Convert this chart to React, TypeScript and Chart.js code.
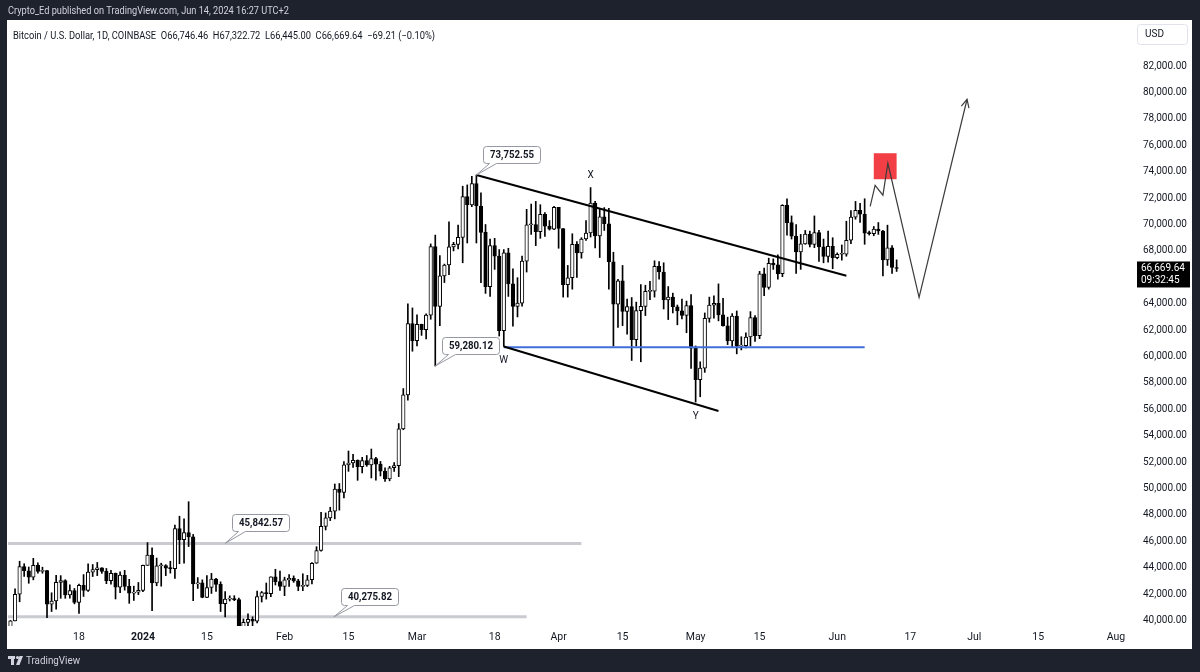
import React, { useEffect, useRef } from 'react';
import { Chart, registerables } from 'chart.js';

Chart.register(...registerables);

// ---------- candle data (BTC/USD, 1D, Coinbase) ----------
const candleDates = [
  '2023-12-03', '2023-12-04', '2023-12-05', '2023-12-06', '2023-12-07', '2023-12-08', '2023-12-09', '2023-12-10',
  '2023-12-11', '2023-12-12', '2023-12-13', '2023-12-14', '2023-12-15', '2023-12-16', '2023-12-17', '2023-12-18',
  '2023-12-19', '2023-12-20', '2023-12-21', '2023-12-22', '2023-12-23', '2023-12-24', '2023-12-25', '2023-12-26',
  '2023-12-27', '2023-12-28', '2023-12-29', '2023-12-30', '2023-12-31',
  '2024-01-01', '2024-01-02', '2024-01-03', '2024-01-04', '2024-01-05', '2024-01-06', '2024-01-07', '2024-01-08',
  '2024-01-09', '2024-01-10', '2024-01-11', '2024-01-12', '2024-01-13', '2024-01-14', '2024-01-15', '2024-01-16',
  '2024-01-17', '2024-01-18', '2024-01-19', '2024-01-20', '2024-01-21', '2024-01-22', '2024-01-23', '2024-01-24',
  '2024-01-25', '2024-01-26', '2024-01-27', '2024-01-28', '2024-01-29', '2024-01-30', '2024-01-31',
  '2024-02-01', '2024-02-02', '2024-02-03', '2024-02-04', '2024-02-05', '2024-02-06', '2024-02-07', '2024-02-08',
  '2024-02-09', '2024-02-10', '2024-02-11', '2024-02-12', '2024-02-13', '2024-02-14', '2024-02-15', '2024-02-16',
  '2024-02-17', '2024-02-18', '2024-02-19', '2024-02-20', '2024-02-21', '2024-02-22', '2024-02-23', '2024-02-24',
  '2024-02-25', '2024-02-26', '2024-02-27', '2024-02-28', '2024-02-29',
  '2024-03-01', '2024-03-02', '2024-03-03', '2024-03-04', '2024-03-05', '2024-03-06', '2024-03-07', '2024-03-08',
  '2024-03-09', '2024-03-10', '2024-03-11', '2024-03-12', '2024-03-13', '2024-03-14', '2024-03-15', '2024-03-16',
  '2024-03-17', '2024-03-18', '2024-03-19', '2024-03-20', '2024-03-21', '2024-03-22', '2024-03-23', '2024-03-24',
  '2024-03-25', '2024-03-26', '2024-03-27', '2024-03-28', '2024-03-29', '2024-03-30', '2024-03-31',
  '2024-04-01', '2024-04-02', '2024-04-03', '2024-04-04', '2024-04-05', '2024-04-06', '2024-04-07', '2024-04-08',
  '2024-04-09', '2024-04-10', '2024-04-11', '2024-04-12', '2024-04-13', '2024-04-14', '2024-04-15', '2024-04-16',
  '2024-04-17', '2024-04-18', '2024-04-19', '2024-04-20', '2024-04-21', '2024-04-22', '2024-04-23', '2024-04-24',
  '2024-04-25', '2024-04-26', '2024-04-27', '2024-04-28', '2024-04-29', '2024-04-30',
  '2024-05-01', '2024-05-02', '2024-05-03', '2024-05-04', '2024-05-05', '2024-05-06', '2024-05-07', '2024-05-08',
  '2024-05-09', '2024-05-10', '2024-05-11', '2024-05-12', '2024-05-13', '2024-05-14', '2024-05-15', '2024-05-16',
  '2024-05-17', '2024-05-18', '2024-05-19', '2024-05-20', '2024-05-21', '2024-05-22', '2024-05-23', '2024-05-24',
  '2024-05-25', '2024-05-26', '2024-05-27', '2024-05-28', '2024-05-29', '2024-05-30', '2024-05-31',
  '2024-06-01', '2024-06-02', '2024-06-03', '2024-06-04', '2024-06-05', '2024-06-06', '2024-06-07', '2024-06-08',
  '2024-06-09', '2024-06-10', '2024-06-11', '2024-06-12', '2024-06-13', '2024-06-14',
];

const opens = [
  39460, 39970, 41990, 44080, 43770, 43290, 44170, 43720, 43790, 41240, 41480, 42890, 43020, 41940, 42270, 41370,
  42660, 42270, 43660, 43860, 43990, 43720, 43010, 43580, 42520, 43440, 42580, 42070, 42140,
  42280, 44180, 44950, 42850, 44150, 44160, 43970, 43930, 46970, 46120, 46660, 46340, 42780, 42850, 41740, 42500,
  43140, 42740, 41270, 41620, 41660, 41580, 39520, 39860, 40080, 39940, 41820, 42120, 42030, 43300, 42940,
  42580, 43080, 43190, 43000, 42580, 42660, 43090, 44340, 45300, 47130, 47770, 48290, 49960, 49700, 51800, 51930,
  52130, 51660, 52120, 51780, 52260, 51850, 51320, 50730, 51570, 51730, 54520, 57090, 62500,
  61200, 62440, 62030, 63130, 68330, 63800, 66110, 66930, 68300, 68500, 69020, 72120, 71480, 73100, 71400, 69400,
  65300, 68400, 67600, 61950, 67850, 65500, 63800, 64050, 67230, 69980, 69990, 69450, 70780, 69880, 69640,
  71300, 69700, 65450, 65970, 68500, 67840, 68900, 69360, 71620, 69140, 70590, 70060, 67180, 63960, 65740, 63420,
  63790, 61280, 63470, 63800, 64940, 64950, 66840, 66400, 64290, 64500, 63770, 63460, 63120, 63860,
  60630, 58250, 59120, 62890, 63890, 64030, 63160, 62330, 61190, 63070, 60790, 60820, 61480, 62940, 61580, 66270,
  65230, 67050, 66940, 66270, 71450, 70140, 69120, 67930, 68530, 69280, 68500, 69390, 68300, 67590, 68350,
  67490, 67750, 67760, 68810, 70560, 71080, 70790, 69350, 69310, 69650, 69510, 67320, 68240, 66746.46,
];

const highs = [
  40000, 42400, 44490, 44300, 44050, 44710, 44370, 44040, 43810, 42100, 43430, 43400, 43090, 42700, 42430, 42750,
  43480, 44290, 44240, 44400, 44000, 43940, 43800, 43600, 43680, 43800, 43120, 42600, 42880,
  44190, 45900, 45500, 44730, 44340, 44230, 44490, 47230, 47900, 47700, 49000, 46520, 43250, 43080, 43400, 43570,
  43190, 42930, 42190, 41870, 41880, 41690, 40120, 40510, 40280, 42230, 42200, 42840, 43310, 43880, 43740,
  43280, 43480, 43380, 43120, 43540, 43420, 44380, 45590, 48200, 48150, 48580, 50340, 50380, 52040, 52840, 52580,
  52170, 52360, 52500, 52990, 52370, 52050, 51560, 51680, 51960, 54920, 57570, 64000, 63680,
  63160, 62450, 63240, 68530, 69200, 67640, 67000, 70200, 68650, 69950, 72900, 73000, 73650, 73752.55, 72400, 70000,
  68900, 68950, 68100, 68100, 68200, 66650, 65970, 67600, 71150, 71550, 71750, 71500, 70900, 70300, 71370,
  71300, 69700, 66900, 69300, 68700, 69000, 70300, 72800, 71760, 71200, 71280, 71230, 67900, 65850, 66900, 64360,
  64470, 64120, 65450, 65400, 65700, 67250, 67200, 67100, 65300, 64800, 63900, 64350, 64200, 64700,
  60800, 59600, 63300, 64500, 64600, 65500, 64400, 62980, 63250, 63450, 61500, 61800, 63400, 63100, 66450, 66700,
  67450, 67400, 67700, 71500, 71950, 70650, 70000, 69250, 69550, 69500, 70650, 69550, 68900, 69500, 69000,
  67850, 68450, 70250, 71050, 71750, 71600, 71950, 69500, 69850, 70150, 69550, 69950, 68400, 67322.72,
];

const lows = [
  39280, 39970, 41420, 43340, 42820, 43080, 43580, 43580, 40220, 40680, 40850, 41680, 41680, 41700, 41260, 40530,
  41820, 42200, 43330, 43400, 43570, 42790, 42760, 41630, 42110, 42300, 41300, 41520, 41960,
  42190, 44180, 40750, 42630, 42600, 43400, 43590, 43180, 44300, 44350, 45600, 41500, 42430, 41720, 41720, 42050,
  42200, 40680, 40270, 41480, 41500, 39440, 38520, 39480, 39530, 39820, 41400, 41620, 41800, 42690, 42280,
  41880, 42580, 42890, 42260, 42260, 42570, 42780, 44330, 45250, 46860, 47570, 47700, 48360, 49280, 51300, 51600,
  50620, 51180, 51680, 50800, 50640, 50950, 50540, 50580, 51290, 50900, 54450, 56700, 60400,
  60800, 61600, 61330, 62820, 59280.12, 62340, 65600, 66200, 68000, 68150, 67100, 68600, 71350, 68600, 65600, 64780,
  64550, 66600, 61550, 60760, 64550, 62300, 63000, 63820, 66400, 69250, 68400, 68950, 69100, 69580, 69600,
  68200, 64500, 64500, 65100, 66000, 67450, 68800, 69050, 68220, 67500, 69550, 65100, 60800, 62200, 62340, 61700,
  59700, 60800, 59600, 63100, 64300, 64500, 65850, 63600, 62800, 63300, 62400, 62850, 61800, 59100,
  56550, 56950, 58800, 62600, 62900, 62700, 62300, 60900, 60750, 60200, 60500, 60650, 60800, 61150, 61350, 64600,
  65100, 66600, 65850, 66050, 69200, 68900, 66300, 66600, 68500, 68300, 68250, 67200, 67100, 67150, 66650,
  67400, 67300, 67600, 68550, 70400, 70150, 68500, 69200, 69150, 69250, 66100, 66900, 66300, 66445.0,
];

const closes = [
  39970, 41990, 44080, 43770, 43290, 44170, 43720, 43790, 41240, 41480, 42890, 43020, 41940, 42270, 41370, 42660,
  42270, 43660, 43860, 43990, 43720, 43010, 43580, 42520, 43440, 42580, 42070, 42140, 42280,
  44180, 44950, 42850, 44150, 44160, 43970, 43930, 46970, 46120, 46660, 46340, 42780, 42850, 41740, 42500, 43140,
  42740, 41270, 41620, 41660, 41580, 39520, 39860, 40080, 39940, 41820, 42120, 42030, 43300, 42940, 42580,
  43080, 43190, 43000, 42580, 42660, 43090, 44340, 45300, 47130, 47770, 48290, 49960, 49700, 51800, 51930, 52130,
  51660, 52120, 51780, 52260, 51850, 51320, 50730, 51570, 51730, 54520, 57090, 62500, 61200,
  62440, 62030, 63130, 68330, 63800, 66110, 66930, 68300, 68500, 69020, 72120, 71480, 73100, 71400, 69400, 65300,
  68400, 67600, 61950, 67850, 65500, 63800, 64050, 67230, 69980, 69990, 69450, 70780, 69880, 69640, 71300,
  69700, 65450, 65970, 68500, 67840, 68900, 69360, 71620, 69140, 70590, 70060, 67180, 63960, 65740, 63420, 63790,
  61280, 63470, 63800, 64940, 64950, 66840, 66400, 64290, 64500, 63770, 63460, 63120, 63860, 60630,
  58250, 59120, 62890, 63890, 64030, 63160, 62330, 61190, 63070, 60790, 60820, 61480, 62940, 61580, 66270, 65230,
  67050, 66940, 66270, 71450, 70140, 69120, 67930, 68530, 69280, 68500, 69390, 68300, 67590, 68350, 67490,
  67750, 67760, 68810, 70560, 71080, 70790, 69350, 69310, 69650, 69510, 67320, 68240, 66750, 66669.64,
];

// ---------- axes ----------
const timeTickDates = [
  '2023-12-18', '2024-01-01', '2024-01-15', '2024-02-01', '2024-02-15', '2024-03-01', '2024-03-18', '2024-04-01',
  '2024-04-15', '2024-05-01', '2024-05-15', '2024-06-01', '2024-06-17', '2024-07-01', '2024-07-15', '2024-08-01',
];
const timeTickLabels = ['18', '2024', '15', 'Feb', '15', 'Mar', '18', 'Apr', '15', 'May', '15', 'Jun', '17', 'Jul', '15', 'Aug'];
const priceTicks = [
  40000, 42000, 44000, 46000, 48000, 50000, 52000, 54000, 56000, 58000, 60000, 62000, 64000,
  68000, 70000, 72000, 74000, 76000, 78000, 80000, 82000,
];
const viewStart = '2023-12-02T11:00';
const viewEnd = '2024-08-04T18:00';
const priceMin = 39583;
const priceMax = 85494;

// ---------- drawings ----------
const channelTopDates = ['2024-03-14', '2024-06-03'];
const channelTopPrices = [73752.55, 66120];
const channelBottomDates = ['2024-03-20', '2024-05-06'];
const channelBottomPrices = [60760, 55870];
const wLevelDates = ['2024-03-20', '2024-06-07'];
const wLevelPrices = [60700, 60700];
const resistanceDates = ['2023-11-20', '2024-04-06'];
const resistancePrices = [45842.57, 45842.57];
const supportDates = ['2023-11-20', '2024-03-25'];
const supportPrices = [40275.82, 40275.82];
const projectionDates = ['2024-06-08T05:00', '2024-06-09T07:00', '2024-06-11T00:00', '2024-06-12T02:00', '2024-06-18T22:00', '2024-06-29T10:00'];
const projectionPrices = [71380, 72970, 72220, 74640, 64480, 79490];
const targetBoxDates = ['2024-06-09', '2024-06-14'];
const targetBoxPrices = [73430, 75400];
const calloutTexts = ['73,752.55', '59,280.12', '45,842.57', '40,275.82'];
const calloutDates = ['2024-03-14', '2024-03-05', '2024-01-19', '2024-02-11T19:00'];
const calloutPrices = [73752.55, 59280.12, 45842.57, 40275.82];
const waveLabels = ['X', 'W', 'Y'];
const waveDates = ['2024-04-08', '2024-03-20', '2024-05-01'];
const wavePrices = [72800, 60760, 56550];
const waveAbove = [true, false, false];

const publishText = 'Crypto_Ed published on TradingView.com, Jun 14, 2024 16:27 UTC+2';
const symbolText = 'Bitcoin / U.S. Dollar, 1D, COINBASE  O66,746.46  H67,322.72  L66,445.00  C66,669.64  \u221269.21 (\u22120.10%)';
const countdownText = '09:32:45';
const currencyText = 'USD';

// ---------- helpers ----------
const EPOCH = Date.parse('2023-12-18T00:00:00Z');
const dayOf = (s: string) => (Date.parse(s.length > 10 ? s + ':00Z' : s + 'T00:00:00Z') - EPOCH) / 86400000;
const fmt = (v: number) => v.toLocaleString('en-US', { minimumFractionDigits: 2, maximumFractionDigits: 2 });
const pts = (dates: string[], prices: number[]) => dates.map((d, i) => ({ x: dayOf(d), y: prices[i] }));

const FONT = 'Roboto, "Liberation Sans", sans-serif';

function roundRectPath(ctx: CanvasRenderingContext2D, x: number, y: number, w: number, h: number, r: number) {
  ctx.moveTo(x + r, y);
  ctx.lineTo(x + w - r, y);
  ctx.arcTo(x + w, y, x + w, y + r, r);
  ctx.lineTo(x + w, y + h - r);
  ctx.arcTo(x + w, y + h, x + w - r, y + h, r);
  ctx.lineTo(x + r, y + h);
  ctx.arcTo(x, y + h, x, y + h - r, r);
  ctx.lineTo(x, y + r);
  ctx.arcTo(x, y, x + r, y, r);
  ctx.closePath();
}

const decorPlugin = {
  id: 'decor',
  beforeDraw(chart: any) {
    const ctx: CanvasRenderingContext2D = chart.ctx;
    ctx.save();
    ctx.fillStyle = '#1e222d';
    ctx.fillRect(0, 0, chart.width, chart.height);
    ctx.fillStyle = '#ffffff';
    ctx.fillRect(7, 20, 1185, 629);

    ctx.textBaseline = 'middle';
    ctx.textAlign = 'left';
    ctx.fillStyle = '#d1d4dc';
    ctx.font = `11px ${FONT}`;
    ctx.fillText(publishText, 8, 11, 281);

    ctx.fillStyle = '#131722';
    ctx.font = `10.5px ${FONT}`;
    ctx.fillText(symbolText, 13, 36, 422);

    // USD box
    ctx.strokeStyle = '#e0e3eb';
    ctx.lineWidth = 1;
    ctx.beginPath();
    roundRectPath(ctx, 1137.5, 24.5, 50, 20, 3);
    ctx.stroke();
    ctx.fillStyle = '#131722';
    ctx.font = `10px ${FONT}`;
    ctx.fillText(currencyText, 1145, 34.5);

    // footer logo + text
    ctx.fillStyle = '#d1d4dc';
    ctx.fillRect(8, 656, 7, 3);
    ctx.fillRect(11, 656, 3, 9);
    ctx.beginPath();
    ctx.arc(17.5, 657.5, 1.6, 0, Math.PI * 2);
    ctx.fill();
    ctx.beginPath();
    ctx.moveTo(19.5, 656);
    ctx.lineTo(23, 656);
    ctx.lineTo(19.5, 665);
    ctx.lineTo(16, 665);
    ctx.closePath();
    ctx.fill();
    ctx.font = `11px ${FONT}`;
    ctx.fillText('TradingView', 26, 661, 54);
    ctx.restore();
  },
  afterDatasetsDraw(chart: any) {
    const ctx: CanvasRenderingContext2D = chart.ctx;
    const xs = chart.scales.x;
    const ys = chart.scales.y;
    const area = chart.chartArea;
    ctx.save();
    ctx.beginPath();
    ctx.rect(area.left, area.top, area.right - area.left, area.bottom - area.top);
    ctx.clip();

    // target box
    const bx0 = xs.getPixelForValue(dayOf(targetBoxDates[0]));
    const bx1 = xs.getPixelForValue(dayOf(targetBoxDates[1]));
    const by0 = ys.getPixelForValue(targetBoxPrices[1]);
    const by1 = ys.getPixelForValue(targetBoxPrices[0]);
    ctx.fillStyle = '#f23f45';
    ctx.fillRect(bx0, by0, bx1 - bx0, by1 - by0);

    // projection path redrawn on top of box
    ctx.strokeStyle = '#3c3c3c';
    ctx.lineWidth = 1.2;
    ctx.beginPath();
    projectionDates.forEach((d, i) => {
      const px = xs.getPixelForValue(dayOf(d));
      const py = ys.getPixelForValue(projectionPrices[i]);
      if (i === 0) ctx.moveTo(px, py);
      else ctx.lineTo(px, py);
    });
    ctx.stroke();
    // arrow head
    const n = projectionDates.length;
    const ex = xs.getPixelForValue(dayOf(projectionDates[n - 1]));
    const ey = ys.getPixelForValue(projectionPrices[n - 1]);
    const sx = xs.getPixelForValue(dayOf(projectionDates[n - 2]));
    const sy = ys.getPixelForValue(projectionPrices[n - 2]);
    const ang = Math.atan2(ey - sy, ex - sx);
    ctx.beginPath();
    ctx.moveTo(ex - 9 * Math.cos(ang - 0.45), ey - 9 * Math.sin(ang - 0.45));
    ctx.lineTo(ex, ey);
    ctx.lineTo(ex - 9 * Math.cos(ang + 0.45), ey - 9 * Math.sin(ang + 0.45));
    ctx.stroke();

    // wave labels
    ctx.fillStyle = '#131722';
    ctx.font = `10px ${FONT}`;
    ctx.textAlign = 'center';
    ctx.textBaseline = 'middle';
    waveLabels.forEach((t, i) => {
      const px = xs.getPixelForValue(dayOf(waveDates[i]));
      const py = ys.getPixelForValue(wavePrices[i]) + (waveAbove[i] ? -12 : 14);
      ctx.fillText(t, px, py);
    });

    // callouts
    calloutTexts.forEach((t, i) => {
      const ax = xs.getPixelForValue(dayOf(calloutDates[i]));
      const ay = ys.getPixelForValue(calloutPrices[i]);
      const w = 57;
      const h = 17;
      const r = 3;
      const bx = Math.round(ax + 7) + 0.5;
      const by = Math.round(ay - 12 - h) + 0.5;
      ctx.beginPath();
      ctx.moveTo(bx + r, by);
      ctx.lineTo(bx + w - r, by);
      ctx.arcTo(bx + w, by, bx + w, by + r, r);
      ctx.lineTo(bx + w, by + h - r);
      ctx.arcTo(bx + w, by + h, bx + w - r, by + h, r);
      ctx.lineTo(bx + 13, by + h);
      ctx.lineTo(ax, ay);
      ctx.lineTo(bx + 6, by + h);
      ctx.lineTo(bx + r, by + h);
      ctx.arcTo(bx, by + h, bx, by + h - r, r);
      ctx.lineTo(bx, by + r);
      ctx.arcTo(bx, by, bx + r, by, r);
      ctx.closePath();
      ctx.fillStyle = '#ffffff';
      ctx.fill();
      ctx.strokeStyle = '#9598a1';
      ctx.lineWidth = 1;
      ctx.stroke();
      ctx.fillStyle = '#131722';
      ctx.font = `bold 10px ${FONT}`;
      ctx.fillText(t, bx + w / 2, by + h / 2 + 0.5, 44);
    });
    ctx.restore();
  },
  afterDraw(chart: any) {
    const ctx: CanvasRenderingContext2D = chart.ctx;
    const ys = chart.scales.y;
    const last = closes[closes.length - 1];
    const py = ys.getPixelForValue(last);
    ctx.save();
    ctx.fillStyle = '#000000';
    ctx.fillRect(1137, py - 7, 53, 26);
    ctx.fillStyle = '#ffffff';
    ctx.font = `10px ${FONT}`;
    ctx.textAlign = 'left';
    ctx.textBaseline = 'middle';
    ctx.fillText(fmt(last), 1141, py + 0.5);
    ctx.fillText(countdownText, 1141, py + 12.5);
    ctx.restore();
  },
};

export default function App() {
  const ref = useRef<HTMLCanvasElement>(null);

  useEffect(() => {
    const canvas = ref.current;
    if (!canvas) return;
    const dayX = candleDates.map(dayOf);
    const wickData = dayX.map((x, i) => ({ x, y: [lows[i], highs[i]] }));
    const bodyData = dayX.map((x, i) => ({ x, y: [opens[i], closes[i]] }));
    const bodyColors = closes.map((c, i) => (c >= opens[i] ? '#ffffff' : '#000000'));

    const lineDs = (data: any[], color: string, width: number, order: number) => ({
      type: 'line' as const,
      data,
      borderColor: color,
      borderWidth: width,
      pointRadius: 0,
      tension: 0,
      fill: false,
      order,
    });

    const chart = new Chart(canvas, {
      type: 'bar',
      data: {
        datasets: [
          lineDs(pts(resistanceDates, resistancePrices), 'rgba(196,197,204,0.9)', 3, 5),
          lineDs(pts(supportDates, supportPrices), 'rgba(196,197,204,0.9)', 3, 5),
          {
            type: 'bar',
            data: wickData,
            backgroundColor: '#000000',
            barThickness: 1,
            grouped: false,
            order: 4,
          },
          {
            type: 'bar',
            data: bodyData,
            backgroundColor: bodyColors,
            borderColor: '#000000',
            borderWidth: 1,
            borderSkipped: false,
            barThickness: 3.6,
            minBarLength: 1,
            grouped: false,
            order: 3,
          },
          lineDs(pts(channelTopDates, channelTopPrices), '#000000', 2, 1),
          lineDs(pts(channelBottomDates, channelBottomPrices), '#000000', 2, 1),
          lineDs(pts(wLevelDates, wLevelPrices), '#3f6fd8', 2, 1),
        ] as any,
      },
      options: {
        animation: false,
        responsive: false,
        maintainAspectRatio: false,
        layout: { padding: { left: 8, top: 20, right: 8, bottom: 24 } },
        plugins: { legend: { display: false }, tooltip: { enabled: false } },
        scales: {
          x: {
            type: 'linear',
            min: dayOf(viewStart),
            max: dayOf(viewEnd),
            offset: false,
            grid: { display: false, drawTicks: false },
            border: { display: false },
            afterBuildTicks: (s: any) => {
              s.ticks = timeTickDates.map((d) => ({ value: dayOf(d) }));
            },
            afterFit: (s: any) => {
              s.height = 22;
            },
            ticks: {
              autoSkip: false,
              maxRotation: 0,
              padding: 5,
              color: '#131722',
              font: (c: any) => ({
                family: FONT,
                size: 10.5,
                weight: timeTickLabels[c.index] === '2024' ? 'bold' : 'normal',
              }),
              callback: (_v: any, i: number) => timeTickLabels[i],
            },
          },
          y: {
            type: 'linear',
            position: 'right',
            min: priceMin,
            max: priceMax,
            grid: { display: false, drawTicks: false },
            border: { display: false },
            afterBuildTicks: (s: any) => {
              s.ticks = priceTicks.map((v) => ({ value: v }));
            },
            afterFit: (s: any) => {
              s.width = 59;
            },
            ticks: {
              padding: 10,
              color: '#131722',
              font: { family: FONT, size: 10 },
              callback: (v: any) => fmt(Number(v)),
            },
          },
        },
      } as any,
      plugins: [decorPlugin],
    });
    return () => chart.destroy();
  }, []);

  return (
    <div style={{ position: 'fixed', left: 0, top: 0, width: 1200, height: 672, background: '#1e222d' }}>
      <canvas ref={ref} width={1200} height={672} style={{ display: 'block', width: 1200, height: 672 }} />
    </div>
  );
}
